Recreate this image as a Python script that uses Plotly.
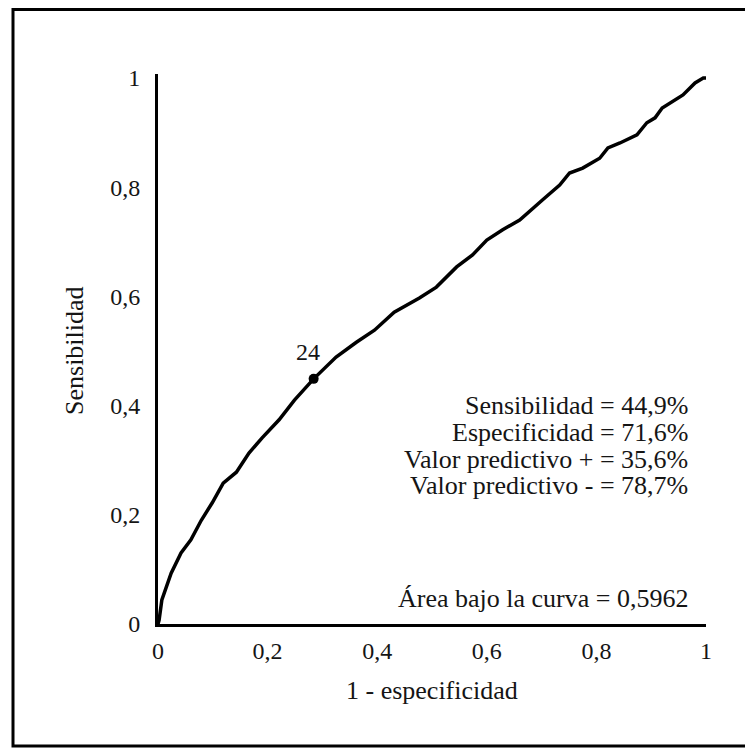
import plotly.graph_objects as go

# ROC curve points (1 - especificidad, sensibilidad)
fpr = [0, 0.002, 0.007, 0.024, 0.042, 0.060, 0.079, 0.099, 0.119, 0.143, 0.166,
       0.190, 0.221, 0.249, 0.284, 0.294, 0.325, 0.362, 0.395, 0.431, 0.477,
       0.508, 0.545, 0.574, 0.600, 0.629, 0.660, 0.702, 0.733, 0.751, 0.775,
       0.806, 0.821, 0.843, 0.874, 0.892, 0.907, 0.920, 0.938, 0.958, 0.980,
       0.995, 1.0]
tpr = [0, 0.007, 0.044, 0.093, 0.130, 0.154, 0.190, 0.222, 0.258, 0.278, 0.313,
       0.341, 0.374, 0.410, 0.449, 0.459, 0.489, 0.516, 0.538, 0.571, 0.597,
       0.617, 0.654, 0.676, 0.703, 0.722, 0.740, 0.777, 0.804, 0.826, 0.835,
       0.853, 0.872, 0.881, 0.896, 0.918, 0.927, 0.945, 0.956, 0.969, 0.991,
       1.0, 1.0]

cut_label = "24"
cut_x = [0.284]
cut_y = [0.449]

tick_vals = [0, 0.2, 0.4, 0.6, 0.8, 1]
tick_text = ["0", "0,2", "0,4", "0,6", "0,8", "1"]

stats_lines = ["Sensibilidad = 44,9%", "Especificidad = 71,6%",
               "Valor predictivo + = 35,6%", "Valor predictivo - = 78,7%"]
stats_y = [0.400, 0.351, 0.302, 0.253]
auc_text = "Área bajo la curva = 0,5962"

FONT = "Liberation Serif"
TXT = "#151515"

# page body adds an 8 px offset, so the figure is 8 px smaller than the window
W, H = 745, 743
L, R, T, B = 150, 47, 66, 127
PW, PH = W - L - R, H - T - B


def px_x(fx):
    return (fx - L) / PW


def px_y(fy):
    return (H - B - fy) / PH


fig = go.Figure()
fig.add_trace(go.Scatter(x=fpr, y=tpr, mode="lines",
                         line=dict(color="black", width=3.5),
                         hoverinfo="skip", showlegend=False))
fig.add_trace(go.Scatter(x=cut_x, y=cut_y, mode="markers",
                         marker=dict(color="black", size=10),
                         showlegend=False))

fig.add_annotation(x=cut_x[0], y=cut_y[0], xref="x", yref="y", text=cut_label,
                   showarrow=False, xshift=-6, yshift=27,
                   font=dict(family=FONT, size=24, color=TXT))

for t, yy in zip(stats_lines, stats_y):
    fig.add_annotation(x=0.971, y=yy, xref="x", yref="y", text=t,
                       showarrow=False, xanchor="right", yanchor="middle",
                       font=dict(family=FONT, size=26, color=TXT))
fig.add_annotation(x=0.971, y=0.046, xref="x", yref="y", text=auc_text,
                   showarrow=False, xanchor="right", yanchor="middle",
                   font=dict(family=FONT, size=26, color=TXT))

# axis titles
fig.add_annotation(x=0.5, y=0, xref="paper", yref="paper",
                   text="1 - especificidad", showarrow=False,
                   yanchor="middle", yshift=-66,
                   font=dict(family=FONT, size=26, color=TXT))
fig.add_annotation(x=0, y=0.5, xref="paper", yref="y",
                   text="Sensibilidad", showarrow=False, textangle=-90,
                   xanchor="center", yanchor="middle", xshift=-83,
                   font=dict(family=FONT, size=26, color=TXT))

# outer frame
fig.add_shape(type="rect", xref="paper", yref="paper",
              x0=px_x(5), x1=px_x(740), y0=px_y(738), y1=px_y(1.5),
              line=dict(color="black", width=3), fillcolor="rgba(0,0,0,0)")

fig.update_xaxes(range=[0, 1], showline=True, linecolor="black", linewidth=3,
                 showgrid=False, zeroline=False, tickvals=tick_vals,
                 ticktext=tick_text, ticks="outside", ticklen=3,
                 tickcolor="rgba(0,0,0,0)",
                 tickfont=dict(family=FONT, size=24, color=TXT))
fig.update_yaxes(range=[0, 1.0073], showline=True, linecolor="black",
                 linewidth=3, showgrid=False, zeroline=False,
                 tickvals=tick_vals, ticktext=tick_text, ticks="outside",
                 ticklen=10, tickcolor="rgba(0,0,0,0)",
                 tickfont=dict(family=FONT, size=24, color=TXT))

fig.update_layout(width=W, height=H,
                  margin=dict(l=L, r=R, t=T, b=B),
                  paper_bgcolor="white", plot_bgcolor="white",
                  showlegend=False)

fig.write_html("out.html")
